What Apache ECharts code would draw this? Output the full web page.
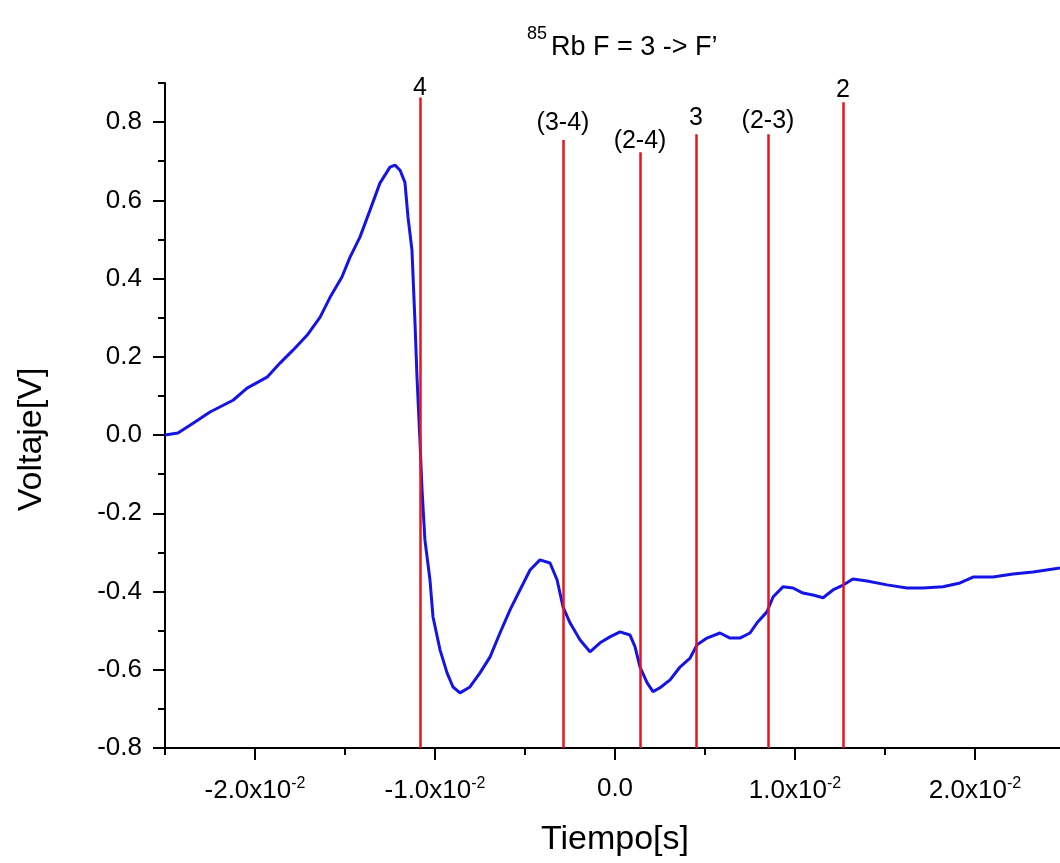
<!DOCTYPE html>
<html>
<head>
<meta charset="utf-8">
<script src="https://cdn.jsdelivr.net/npm/echarts@6/dist/echarts.min.js"></script>
<style>
  html, body { margin: 0; padding: 0; background: #fff; }
  #chart { width: 1060px; height: 863px; }
</style>
</head>
<body>
<div id="chart"></div>
<script>
// tiempo [s]
const tiempo = [
  -0.02500, -0.02428, -0.02344, -0.02250, -0.02122, -0.02044, -0.01933, -0.01861,
  -0.01789, -0.01711, -0.01639, -0.01583, -0.01517, -0.01472, -0.01417, -0.01361,
  -0.01306, -0.01250, -0.01222, -0.01194, -0.01167, -0.01150, -0.01128, -0.01111,
  -0.01100, -0.01083, -0.01072, -0.01056, -0.01028, -0.01011, -0.00972, -0.00933,
  -0.00900, -0.00861, -0.00806, -0.00750, -0.00694, -0.00639, -0.00583, -0.00528,
  -0.00472, -0.00417, -0.00361, -0.00322, -0.00289, -0.00250, -0.00194, -0.00139,
  -0.00083, -0.00028, 0.00028, 0.00083, 0.00111, 0.00139, 0.00178, 0.00211,
  0.00250, 0.00306, 0.00361, 0.00417, 0.00456, 0.00511, 0.00583, 0.00639,
  0.00694, 0.00750, 0.00789, 0.00844, 0.00878, 0.00933, 0.00989, 0.01044,
  0.01100, 0.01156, 0.01211, 0.01261, 0.01322, 0.01400, 0.01511, 0.01622,
  0.01711, 0.01822, 0.01917, 0.01989, 0.02100, 0.02211, 0.02322, 0.02472, 0.02500
]
// voltaje [V]
const voltaje = [
  0.000, 0.005, 0.030, 0.059, 0.089, 0.120, 0.148, 0.184,
  0.217, 0.255, 0.301, 0.352, 0.404, 0.455, 0.506, 0.575,
  0.644, 0.685, 0.690, 0.677, 0.646, 0.557, 0.473, 0.286,
  0.148, -0.020, -0.140, -0.268, -0.370, -0.465, -0.549, -0.608,
  -0.644, -0.659, -0.644, -0.608, -0.567, -0.506, -0.447, -0.396,
  -0.345, -0.319, -0.327, -0.370, -0.439, -0.480, -0.524, -0.554,
  -0.531, -0.516, -0.503, -0.511, -0.541, -0.593, -0.633, -0.656,
  -0.646, -0.626, -0.593, -0.570, -0.536, -0.519, -0.506, -0.519,
  -0.519, -0.506, -0.480, -0.452, -0.414, -0.388, -0.391, -0.404,
  -0.409, -0.416, -0.396, -0.385, -0.368, -0.373, -0.383, -0.391,
  -0.391, -0.388, -0.378, -0.363, -0.363, -0.355, -0.350, -0.340, -0.338
]
// transiciones (lineas rojas)
const transNombres = ['4', '(3-4)', '(2-4)', '3', '(2-3)', '2']
const transTiempo = [-0.01083, -0.00289, 0.00139, 0.00450, 0.00850, 0.01267]
const transAltura = [0.863, 0.754, 0.723, 0.769, 0.769, 0.851]
// ticks
const xMajor = [-0.02, -0.01, 0, 0.01, 0.02]
const yMajor = [-0.8, -0.6, -0.4, -0.2, 0, 0.2, 0.4, 0.6, 0.8]

// separacion de cada etiqueta sobre su linea (px)
const etiquetaDist = [-3, 5, -1, 4, 1, 0]

const FONT = '"Liberation Sans", Arial, Helvetica, sans-serif'
const chartInstance = echarts.init(document.getElementById('chart'), null, { renderer: 'canvas' })

const curva = tiempo.map((t, i) => [t, voltaje[i]])
const lineasRojas = transTiempo.map((t, i) => [
  { coord: [t, -0.8] },
  { coord: [t, transAltura[i]], label: { formatter: transNombres[i], distance: etiquetaDist[i] } }
])

function xLabel(v){
  const n = Math.round(v * 1000)
  if (n % 10 !== 0) return ''
  if (n === 0) return '0.0'
  return (n / 10).toFixed(1) + 'x10{sup|-2}'
}

const option = {
  backgroundColor: '#fff',
  animation: false,
  textStyle: { fontFamily: FONT },
  title: {
    text: '{sup|85}{main|Rb F = 3 -> F’}',
    left: 522,
    top: 20,
    textStyle: {
      fontWeight: 'normal',
      rich: {
        sup: { fontSize: 18, fontFamily: FONT, color: '#000', verticalAlign: 'top', lineHeight: 36, padding: [0, 4, 0, 0] },
        main: { fontSize: 27, fontFamily: FONT, color: '#000', lineHeight: 36, verticalAlign: 'bottom' }
      }
    }
  },
  // el eje x sigue hasta 0.025, un poco fuera del lienzo
  grid: { left: 165, width: 900, top: 83, bottom: 115, outerBoundsMode: 'none' },
  xAxis: [
    {
      type: 'value',
      min: -0.025,
      max: 0.025,
      interval: 0.005,
      name: 'Tiempo[s]',
      nameLocation: 'middle',
      nameGap: 75,
      nameTextStyle: { fontSize: 34, color: '#000', fontFamily: FONT },
      splitLine: { show: false },
      axisLine: { show: true, onZero: false, lineStyle: { color: '#000', width: 2 } },
      axisTick: { show: true, length: 7, lineStyle: { color: '#000', width: 2 } },
      axisLabel: {
        margin: 28,
        color: '#000',
        fontSize: 26,
        fontFamily: FONT,
        formatter: xLabel,
        rich: { sup: { fontSize: 16, fontFamily: FONT, color: '#000', verticalAlign: 'top', lineHeight: 30 } }
      }
    },
    {
      type: 'value',
      min: -0.025,
      max: 0.025,
      position: 'bottom',
      splitLine: { show: false },
      axisLine: { show: false, onZero: false },
      axisTick: { show: true, length: 12, customValues: xMajor, lineStyle: { color: '#000', width: 2 } },
      axisLabel: { show: false }
    }
  ],
  yAxis: [
    {
      type: 'value',
      min: -0.8,
      max: 0.9,
      interval: 0.1,
      name: 'Voltaje[V]',
      nameLocation: 'middle',
      nameGap: 116,
      nameTextStyle: { fontSize: 34, color: '#000', fontFamily: FONT, padding: [0, 48, 0, 0] },
      splitLine: { show: false },
      axisLine: { show: true, onZero: false, lineStyle: { color: '#000', width: 2 } },
      axisTick: { show: true, length: 7, lineStyle: { color: '#000', width: 2 } },
      axisLabel: {
        margin: 23,
        color: '#000',
        fontSize: 26,
        fontFamily: FONT,
        formatter: (v) => {
          const n = Math.round(v * 10)
          if (n % 2 !== 0) return ''
          return (n / 10).toFixed(1)
        }
      }
    },
    {
      type: 'value',
      min: -0.8,
      max: 0.9,
      position: 'left',
      splitLine: { show: false },
      axisLine: { show: false, onZero: false },
      axisTick: { show: true, length: 12, customValues: yMajor, lineStyle: { color: '#000', width: 2 } },
      axisLabel: { show: false }
    }
  ],
  series: [
    {
      type: 'line',
      xAxisIndex: 0,
      yAxisIndex: 0,
      data: curva,
      showSymbol: false,
      lineStyle: { color: '#1414e6', width: 3 },
      z: 3,
      markLine: {
        silent: true,
        symbol: ['none', 'none'],
        lineStyle: { color: '#e8141c', width: 2.5, type: 'solid' },
        label: {
          show: true,
          position: 'end',
          color: '#000',
          fontSize: 25,
          fontFamily: FONT
        },
        data: lineasRojas
      }
    }
  ]
}

chartInstance.setOption(option)
</script>
</body>
</html>
